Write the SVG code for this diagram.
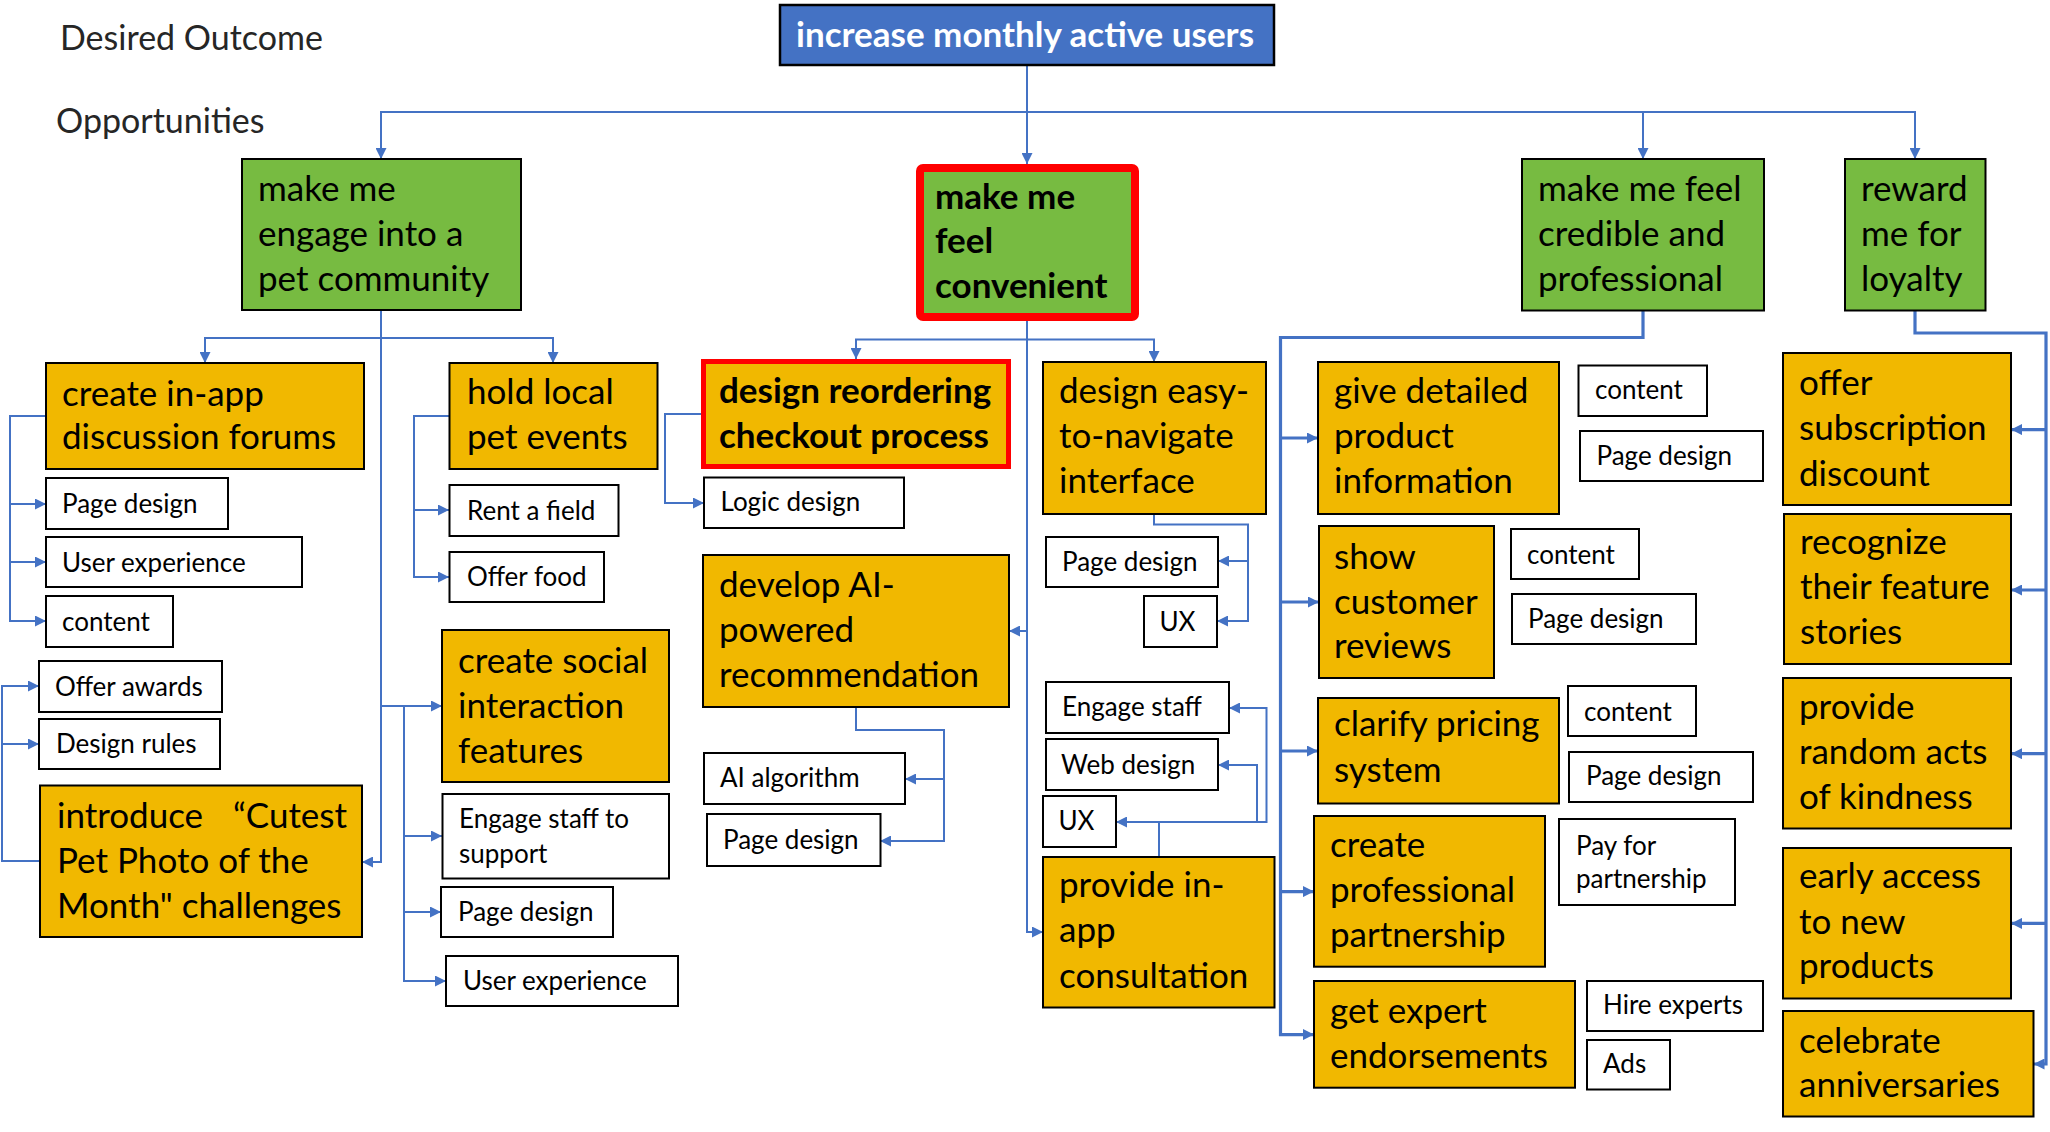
<svg xmlns="http://www.w3.org/2000/svg" width="2050" height="1132" viewBox="0 0 2050 1132">
<style>
text{font-family:Lato,"Liberation Sans",sans-serif;fill:#000}
.big{font-size:35px}
.bold{font-weight:bold}
.sm{font-size:26px}
.lbl{font-size:34px;fill:#262626}
.goal{fill:#4472C4;stroke:#000;stroke-width:2.5}
.grn{fill:#77BB41;stroke:#000;stroke-width:2}
.org{fill:#F1B800;stroke:#000;stroke-width:2}
.wht{fill:#fff;stroke:#000;stroke-width:2}
.c{fill:none;stroke:#4472C4;stroke-width:2}
.ct{fill:none;stroke:#4472C4;stroke-width:3.2}
</style>
<defs>
<marker id="ah" viewBox="0 0 10 10" refX="10" refY="5" markerWidth="11" markerHeight="11" markerUnits="userSpaceOnUse" orient="auto">
<path d="M0,0 L10,5 L0,10 z" fill="#4472C4"/>
</marker>
</defs>
<rect width="2050" height="1132" fill="#fff"/>
<text class="lbl" x="60" y="50">Desired Outcome</text>
<text class="lbl" x="56" y="133">Opportunities</text>

<g id="connectors">
<path class="c" d="M1027,65 V164" marker-end="url(#ah)"/>
<path class="c" d="M381,159 V112 H1915 V159" />
<path class="c" d="M381,112 V159" marker-end="url(#ah)"/>
<path class="c" d="M1643,112 V159" marker-end="url(#ah)"/>
<path class="c" d="M1915,112 V159" marker-end="url(#ah)"/>
<path class="c" d="M381,310 V862 H362" marker-end="url(#ah)"/>
<path class="c" d="M205,363 V338 H553 V363"/>
<path class="c" d="M205,338 V363" marker-end="url(#ah)"/>
<path class="c" d="M553,338 V363" marker-end="url(#ah)"/>
<path class="c" d="M381,706 H442" marker-end="url(#ah)"/>
<path class="c" d="M404,706 V981 H446" marker-end="url(#ah)"/>
<path class="c" d="M404,836 H442" marker-end="url(#ah)"/>
<path class="c" d="M404,912 H441" marker-end="url(#ah)"/>
<path class="c" d="M46,416 H10 V621 H46" marker-end="url(#ah)"/>
<path class="c" d="M10,504 H46" marker-end="url(#ah)"/>
<path class="c" d="M10,562 H46" marker-end="url(#ah)"/>
<path class="c" d="M40,861 H2 V686 H39" marker-end="url(#ah)"/>
<path class="c" d="M2,744 H39" marker-end="url(#ah)"/>
<path class="c" d="M449,416 H414 V577 H449" marker-end="url(#ah)"/>
<path class="c" d="M414,510 H449" marker-end="url(#ah)"/>
<path class="c" d="M1027,321 V932 H1043" marker-end="url(#ah)"/>
<path class="c" d="M1027,631 H1009" marker-end="url(#ah)"/>
<path class="c" d="M856,359 V339.5 H1154 V362"/>
<path class="c" d="M856,339.5 V359" marker-end="url(#ah)"/>
<path class="c" d="M1154,339.5 V362" marker-end="url(#ah)"/>
<path class="c" d="M701,414 H665 V503 H704" marker-end="url(#ah)"/>
<path class="c" d="M856,707 V730 H944 V841 H880" marker-end="url(#ah)"/>
<path class="c" d="M944,779 H905" marker-end="url(#ah)"/>
<path class="c" d="M1154,514 V524.5 H1248 V621 H1217" marker-end="url(#ah)"/>
<path class="c" d="M1248,561 H1218" marker-end="url(#ah)"/>
<path class="c" d="M1159,857 V822 H1116" marker-end="url(#ah)"/>
<path class="c" d="M1159,822 H1266.5 V708 H1229" marker-end="url(#ah)"/>
<path class="c" d="M1257,822 V765 H1218" marker-end="url(#ah)"/>
<path class="ct" d="M1643,310.5 V337.5 H1280.5 V1034.6 H1314" marker-end="url(#ah)"/>
<path class="ct" d="M1280.5,438 H1318" marker-end="url(#ah)"/>
<path class="ct" d="M1280.5,602 H1319" marker-end="url(#ah)"/>
<path class="ct" d="M1280.5,751 H1318" marker-end="url(#ah)"/>
<path class="ct" d="M1280.5,891.6 H1314" marker-end="url(#ah)"/>
<path class="ct" d="M1915,310.5 V333 H2046 V1064 H2033.5" marker-end="url(#ah)"/>
<path class="ct" d="M2046,429.6 H2011" marker-end="url(#ah)"/>
<path class="ct" d="M2046,590 H2011" marker-end="url(#ah)"/>
<path class="ct" d="M2046,753.7 H2011" marker-end="url(#ah)"/>
<path class="ct" d="M2046,923.4 H2011" marker-end="url(#ah)"/>
</g>

<g id="goal"><rect class="goal" x="780" y="5" width="494" height="60"/><text class="big bold" x="796" y="47" style="fill:#fff">increase monthly active users</text></g>

<g id="opp1"><rect class="grn" x="242" y="159" width="279" height="151"/><text class="big"><tspan x="258" y="201">make me</tspan><tspan x="258" y="246">engage into a</tspan><tspan x="258" y="291">pet community</tspan></text></g>
<g id="opp2"><rect class="grn" x="920" y="168" width="215" height="149" rx="3" style="stroke:#FF0000;stroke-width:8"/><text class="big bold"><tspan x="935" y="209">make me</tspan><tspan x="935" y="253">feel</tspan><tspan x="935" y="298">convenient</tspan></text></g>
<g id="opp3"><rect class="grn" x="1522" y="159" width="242" height="151.5"/><text class="big"><tspan x="1538" y="201">make me feel</tspan><tspan x="1538" y="246">credible and</tspan><tspan x="1538" y="291">professional</tspan></text></g>
<g id="opp4"><rect class="grn" x="1845" y="159" width="140.5" height="151.5"/><text class="big"><tspan x="1861" y="201">reward</tspan><tspan x="1861" y="246">me for</tspan><tspan x="1861" y="291">loyalty</tspan></text></g>

<g id="s-forums"><rect class="org" x="46" y="363" width="318" height="106"/><text class="big"><tspan x="62" y="406">create in-app</tspan><tspan x="62" y="449">discussion forums</tspan></text></g>
<g id="s-events"><rect class="org" x="449.5" y="363" width="208" height="106"/><text class="big"><tspan x="467" y="404">hold local</tspan><tspan x="467" y="449">pet events</tspan></text></g>
<g id="s-social"><rect class="org" x="442" y="630" width="227" height="152"/><text class="big"><tspan x="458" y="672.5">create social</tspan><tspan x="458" y="717.6">interaction</tspan><tspan x="458" y="763">features</tspan></text></g>
<g id="s-photo"><rect class="org" x="40" y="785.5" width="322" height="151.5"/><text class="big"><tspan x="57" y="828">introduce</tspan><tspan x="233" y="828">“Cutest</tspan><tspan x="57" y="873">Pet Photo of the</tspan><tspan x="57" y="918">Month" challenges</tspan></text></g>

<g id="w-pd1"><rect class="wht" x="46" y="478" width="182" height="51"/><text class="sm" x="62" y="513">Page design</text></g>
<g id="w-ux1"><rect class="wht" x="46" y="537" width="256" height="50"/><text class="sm" x="62" y="571.5">User experience</text></g>
<g id="w-ct1"><rect class="wht" x="46" y="596" width="127" height="51"/><text class="sm" x="62" y="631">content</text></g>
<g id="w-awards"><rect class="wht" x="39" y="661" width="183" height="51"/><text class="sm" x="55" y="695.5">Offer awards</text></g>
<g id="w-rules"><rect class="wht" x="39" y="719" width="181" height="50"/><text class="sm" x="56" y="753">Design rules</text></g>
<g id="w-field"><rect class="wht" x="449.5" y="485" width="169" height="51"/><text class="sm" x="467" y="520">Rent a field</text></g>
<g id="w-food"><rect class="wht" x="449.5" y="552" width="154.5" height="50"/><text class="sm" x="467" y="586">Offer food</text></g>
<g id="w-staff1"><rect class="wht" x="442.5" y="794" width="226.5" height="84.5"/><text class="sm"><tspan x="459" y="827.7">Engage staff to</tspan><tspan x="459" y="862.7">support</tspan></text></g>
<g id="w-pd2"><rect class="wht" x="441" y="887" width="172" height="50"/><text class="sm" x="458" y="920.5">Page design</text></g>
<g id="w-ux2"><rect class="wht" x="446" y="956" width="232" height="50"/><text class="sm" x="463" y="990">User experience</text></g>

<g id="s-checkout"><rect class="org" x="703.5" y="361.5" width="305" height="105" style="stroke:#FF0000;stroke-width:5"/><text class="big bold"><tspan x="719" y="402.5">design reordering</tspan><tspan x="719" y="447.6">checkout process</tspan></text></g>
<g id="s-ai"><rect class="org" x="703" y="555" width="306" height="152"/><text class="big"><tspan x="719" y="597">develop AI-</tspan><tspan x="719" y="642">powered</tspan><tspan x="719" y="687">recommendation</tspan></text></g>
<g id="s-nav"><rect class="org" x="1043" y="362" width="223" height="152"/><text class="big"><tspan x="1059" y="402.5">design easy-</tspan><tspan x="1059" y="447.6">to-navigate</tspan><tspan x="1059" y="492.8">interface</tspan></text></g>
<g id="s-consult"><rect class="org" x="1043" y="857" width="231.5" height="150.5"/><text class="big"><tspan x="1059" y="897">provide in-</tspan><tspan x="1059" y="942">app</tspan><tspan x="1059" y="988">consultation</tspan></text></g>

<g id="w-logic"><rect class="wht" x="704" y="477.5" width="200" height="50.5"/><text class="sm" x="720.5" y="511">Logic design</text></g>
<g id="w-algo"><rect class="wht" x="704" y="753" width="201" height="51"/><text class="sm" x="720" y="787">AI algorithm</text></g>
<g id="w-pd3"><rect class="wht" x="707" y="814" width="173.5" height="52"/><text class="sm" x="723" y="849">Page design</text></g>
<g id="w-pd4"><rect class="wht" x="1046" y="537" width="172" height="50"/><text class="sm" x="1062" y="571">Page design</text></g>
<g id="w-ux3"><rect class="wht" x="1144" y="596" width="73" height="51"/><text class="sm" x="1159.5" y="631">UX</text></g>
<g id="w-staff2"><rect class="wht" x="1046" y="682" width="183" height="51"/><text class="sm" x="1062" y="716">Engage staff</text></g>
<g id="w-web"><rect class="wht" x="1046" y="739" width="172" height="51"/><text class="sm" x="1061" y="773.5">Web design</text></g>
<g id="w-ux4"><rect class="wht" x="1043" y="796" width="73" height="51"/><text class="sm" x="1058.5" y="830">UX</text></g>

<g id="s-info"><rect class="org" x="1318" y="362" width="241" height="152"/><text class="big"><tspan x="1334" y="402.5">give detailed</tspan><tspan x="1334" y="447.6">product</tspan><tspan x="1334" y="492.8">information</tspan></text></g>
<g id="s-reviews"><rect class="org" x="1319" y="526" width="175" height="152"/><text class="big"><tspan x="1334" y="569">show</tspan><tspan x="1334" y="614">customer</tspan><tspan x="1334" y="658">reviews</tspan></text></g>
<g id="s-pricing"><rect class="org" x="1318" y="698" width="241" height="105.5"/><text class="big"><tspan x="1334" y="735.7">clarify pricing</tspan><tspan x="1334" y="782">system</tspan></text></g>
<g id="s-partner"><rect class="org" x="1314" y="816" width="231" height="150.7"/><text class="big"><tspan x="1330" y="856.6">create</tspan><tspan x="1330" y="901.7">professional</tspan><tspan x="1330" y="947">partnership</tspan></text></g>
<g id="s-expert"><rect class="org" x="1314" y="981" width="261" height="106.7"/><text class="big"><tspan x="1330" y="1022.7">get expert</tspan><tspan x="1330" y="1067.8">endorsements</tspan></text></g>

<g id="w-ct2"><rect class="wht" x="1578.5" y="365.5" width="128.5" height="50.5"/><text class="sm" x="1595" y="399">content</text></g>
<g id="w-pd5"><rect class="wht" x="1580" y="431" width="183" height="50"/><text class="sm" x="1596.5" y="464.5">Page design</text></g>
<g id="w-ct3"><rect class="wht" x="1511" y="529" width="128" height="50"/><text class="sm" x="1527" y="563.5">content</text></g>
<g id="w-pd6"><rect class="wht" x="1512" y="594" width="184" height="50"/><text class="sm" x="1528" y="627.5">Page design</text></g>
<g id="w-ct4"><rect class="wht" x="1568" y="686" width="128" height="50"/><text class="sm" x="1584" y="720.5">content</text></g>
<g id="w-pd7"><rect class="wht" x="1569" y="752" width="184" height="50"/><text class="sm" x="1586" y="784.5">Page design</text></g>
<g id="w-pay"><rect class="wht" x="1559" y="819" width="176" height="86"/><text class="sm"><tspan x="1576" y="855">Pay for</tspan><tspan x="1576" y="888">partnership</tspan></text></g>
<g id="w-hire"><rect class="wht" x="1587" y="981" width="176" height="50"/><text class="sm" x="1603" y="1013.5">Hire experts</text></g>
<g id="w-ads"><rect class="wht" x="1587" y="1040" width="83" height="49.5"/><text class="sm" x="1603" y="1073">Ads</text></g>

<g id="s-sub"><rect class="org" x="1783" y="353" width="228" height="152"/><text class="big"><tspan x="1799" y="395">offer</tspan><tspan x="1799" y="440">subscription</tspan><tspan x="1799" y="485.6">discount</tspan></text></g>
<g id="s-stories"><rect class="org" x="1784" y="514" width="227" height="150"/><text class="big"><tspan x="1800" y="554">recognize</tspan><tspan x="1800" y="599">their feature</tspan><tspan x="1800" y="643.6">stories</tspan></text></g>
<g id="s-kind"><rect class="org" x="1783" y="678" width="228" height="150.5"/><text class="big"><tspan x="1799" y="719">provide</tspan><tspan x="1799" y="764">random acts</tspan><tspan x="1799" y="808.6">of kindness</tspan></text></g>
<g id="s-early"><rect class="org" x="1783" y="848" width="228" height="150.5"/><text class="big"><tspan x="1799" y="888">early access</tspan><tspan x="1799" y="933.5">to new</tspan><tspan x="1799" y="977.6">products</tspan></text></g>
<g id="s-anniv"><rect class="org" x="1783" y="1011" width="250.5" height="105.5"/><text class="big"><tspan x="1799" y="1052.6">celebrate</tspan><tspan x="1799" y="1096.7">anniversaries</tspan></text></g>
</svg>
